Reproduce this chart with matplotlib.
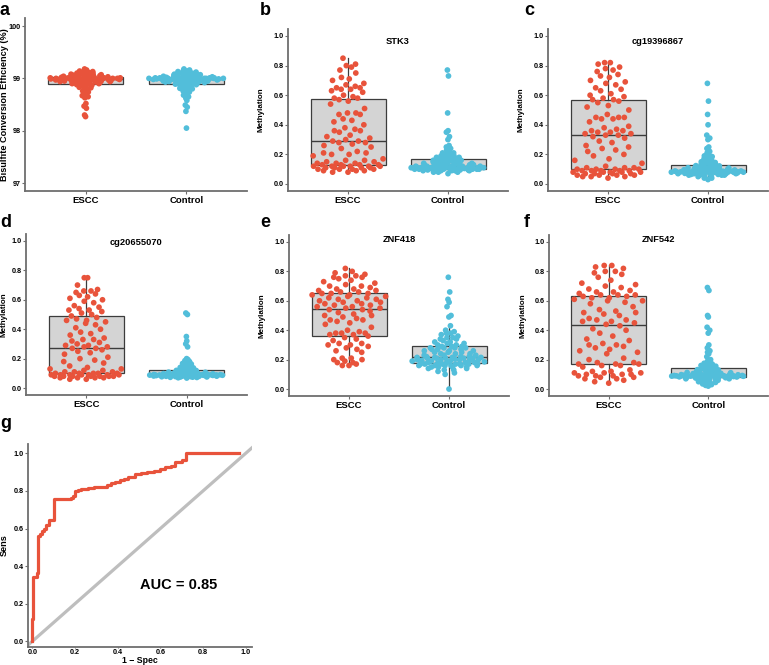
import matplotlib.pyplot as plt
import numpy as np

plt.rcParams['font.family'] = ['Liberation Sans', 'DejaVu Sans']
plt.rcParams['font.weight'] = 'bold'

RED = '#E8533B'
BLUE = '#52BEDA'
groups = ['ESCC', 'Control']

# a: bisulfite conversion efficiency (%)
bis_escc = [98.27, 98.30, 98.43, 98.47, 98.52, 98.63, 98.65, 98.67, 98.70, 98.72, 98.74,
            98.76, 98.78, 98.80, 98.82, 98.83, 98.85, 98.86, 98.87, 98.88, 98.89, 98.89,
            98.90, 98.90, 98.91, 98.91, 98.92, 98.92, 98.93, 98.93, 98.94, 98.94, 98.94,
            98.95, 98.95, 98.95, 98.96, 98.96, 98.96, 98.97, 98.97, 98.97, 98.97, 98.98, 98.98,
            98.98, 98.98, 98.99, 98.99, 98.99, 98.99, 98.99, 98.99, 99.00, 99.00, 99.00, 99.00,
            99.00, 99.00, 99.00, 99.00, 99.01, 99.01, 99.01, 99.01, 99.01, 99.01,
            99.02, 99.02, 99.03, 99.03, 99.04, 99.04, 99.05, 99.05, 99.06, 99.06, 99.07, 99.07,
            99.08, 99.08, 99.09, 99.10, 99.10, 99.11, 99.12, 99.13, 99.14, 99.16, 99.18]
bis_ctrl = [98.05, 98.37, 98.45, 98.49, 98.58, 98.62, 98.65, 98.68, 98.70, 98.72, 98.74,
            98.76, 98.77, 98.78, 98.80, 98.81, 98.82, 98.83, 98.84, 98.85, 98.86, 98.87,
            98.88, 98.89, 98.89,
            98.90, 98.90, 98.91, 98.91, 98.92, 98.92, 98.93, 98.93, 98.93, 98.94, 98.94, 98.94,
            98.95, 98.95, 98.95, 98.96, 98.96, 98.96, 98.97, 98.97, 98.97, 98.97, 98.98, 98.98,
            98.98,
            98.99, 98.99, 98.99, 98.99, 98.99, 98.99, 98.99, 99.00, 99.00, 99.00, 99.00, 99.00,
            99.00, 99.00, 99.00, 99.00, 99.00, 99.01, 99.01, 99.01, 99.01, 99.01, 99.01, 99.01,
            99.01,
            99.02, 99.02, 99.03, 99.03, 99.04, 99.04, 99.05, 99.05, 99.06, 99.06, 99.07, 99.07,
            99.08, 99.08, 99.09, 99.09, 99.10, 99.10, 99.11, 99.12, 99.13, 99.14, 99.15, 99.16,
            99.18]

# b: STK3
stk3_escc = [0.08, 0.08, 0.09, 0.09, 0.09, 0.10, 0.10, 0.10, 0.10, 0.11, 0.11, 0.11, 0.11,
             0.12, 0.12, 0.12, 0.12, 0.12, 0.12, 0.13, 0.13, 0.13,
             0.13, 0.14, 0.14, 0.14, 0.15, 0.15, 0.16, 0.16, 0.17, 0.19, 0.20, 0.20, 0.21,
             0.21, 0.22, 0.24, 0.25, 0.26, 0.27, 0.28, 0.28, 0.29,
             0.29, 0.30, 0.31, 0.32, 0.33, 0.35, 0.36, 0.36, 0.37, 0.38, 0.40, 0.42, 0.43,
             0.44, 0.47, 0.47, 0.48, 0.48, 0.51, 0.54, 0.56, 0.57,
             0.58, 0.58, 0.59, 0.60, 0.62, 0.63, 0.64, 0.64, 0.65, 0.65, 0.66, 0.67, 0.68,
             0.70, 0.71, 0.72, 0.75, 0.77, 0.79, 0.80, 0.81, 0.85]
stk3_ctrl = [0.07, 0.08, 0.08, 0.08, 0.09, 0.09, 0.09, 0.09, 0.09, 0.09, 0.095, 0.095, 0.095,
             0.10, 0.10, 0.10, 0.10, 0.10, 0.10, 0.10, 0.10, 0.10, 0.10, 0.10, 0.10,
             0.10, 0.10, 0.105, 0.105, 0.11, 0.11, 0.11, 0.11, 0.11, 0.11, 0.11, 0.11, 0.11,
             0.11, 0.115, 0.115, 0.12, 0.12, 0.12, 0.12, 0.12, 0.12, 0.12, 0.12, 0.12,
             0.12, 0.12, 0.12, 0.13, 0.13, 0.13, 0.13, 0.13, 0.13, 0.14, 0.14, 0.14, 0.14,
             0.14, 0.15, 0.15, 0.15, 0.15, 0.15, 0.16, 0.16, 0.16, 0.16, 0.16, 0.17,
             0.17, 0.17, 0.17, 0.18, 0.18, 0.18, 0.19, 0.19, 0.19, 0.20, 0.20, 0.21, 0.21,
             0.22, 0.23, 0.24, 0.25, 0.26, 0.30, 0.32, 0.35, 0.36, 0.48, 0.73, 0.77]

# c: cg19396867
cg193_escc = [0.04, 0.05, 0.05, 0.05, 0.06, 0.06, 0.06, 0.06, 0.07, 0.07, 0.07, 0.07, 0.08,
              0.08, 0.08, 0.08, 0.08, 0.09, 0.09, 0.09, 0.09, 0.09,
              0.10, 0.10, 0.10, 0.10, 0.11, 0.11, 0.11, 0.12, 0.14, 0.16, 0.17, 0.19, 0.20,
              0.22, 0.23, 0.24, 0.25, 0.26, 0.28, 0.29, 0.31, 0.32, 0.33,
              0.33, 0.34, 0.34, 0.35, 0.35, 0.36, 0.36, 0.37, 0.38, 0.39, 0.42, 0.44, 0.44,
              0.45, 0.45, 0.45, 0.47, 0.50, 0.52, 0.53, 0.55, 0.56, 0.57,
              0.57, 0.58, 0.59, 0.60, 0.61, 0.63, 0.64, 0.65, 0.67, 0.68, 0.69, 0.70, 0.72,
              0.73, 0.74, 0.76, 0.77, 0.78, 0.79, 0.81, 0.82, 0.82]
cg193_ctrl = [0.03, 0.04, 0.04, 0.05, 0.05, 0.05, 0.06, 0.06, 0.06, 0.06, 0.06, 0.065, 0.065,
              0.07, 0.07, 0.07, 0.07, 0.07, 0.07, 0.072, 0.074, 0.075, 0.076, 0.077, 0.078,
              0.078, 0.079, 0.079, 0.08, 0.08, 0.08, 0.08, 0.08, 0.081, 0.081, 0.082, 0.082,
              0.083, 0.083, 0.084, 0.084, 0.085, 0.085, 0.086, 0.086, 0.087, 0.088, 0.088,
              0.089, 0.09,
              0.09, 0.09, 0.092, 0.094, 0.095, 0.096, 0.098, 0.10, 0.10, 0.102, 0.104, 0.106,
              0.108, 0.11, 0.11, 0.112, 0.114, 0.116, 0.118, 0.12, 0.122, 0.124, 0.126, 0.128,
              0.13,
              0.133, 0.136, 0.14, 0.145, 0.15, 0.155, 0.16, 0.165, 0.17, 0.175, 0.18, 0.185,
              0.19, 0.20, 0.21, 0.22, 0.24, 0.25, 0.30, 0.31, 0.33, 0.40, 0.47, 0.56, 0.68]

# d: cg20655070
cg206_escc = [0.06, 0.06, 0.07, 0.07, 0.07, 0.07, 0.08, 0.08, 0.08, 0.08, 0.08, 0.08, 0.08,
              0.09, 0.09, 0.09, 0.09, 0.09, 0.09, 0.09, 0.10, 0.10,
              0.10, 0.10, 0.10, 0.11, 0.11, 0.11, 0.12, 0.12, 0.13, 0.13, 0.14, 0.15, 0.17,
              0.18, 0.19, 0.20, 0.21, 0.23, 0.24, 0.25, 0.26, 0.27, 0.27,
              0.28, 0.28, 0.29, 0.29, 0.30, 0.31, 0.32, 0.33, 0.33, 0.34, 0.36, 0.37, 0.38,
              0.40, 0.41, 0.43, 0.44, 0.45, 0.46, 0.46, 0.47, 0.48, 0.49,
              0.50, 0.51, 0.52, 0.53, 0.53, 0.54, 0.55, 0.56, 0.58, 0.59, 0.60, 0.61, 0.62,
              0.63, 0.64, 0.65, 0.66, 0.66, 0.67, 0.70, 0.75, 0.75]
cg206_ctrl = [0.068, 0.070, 0.072, 0.073, 0.074, 0.075, 0.076, 0.077, 0.078, 0.078, 0.079,
              0.080, 0.080, 0.081, 0.081, 0.082, 0.082, 0.083, 0.083, 0.084, 0.084, 0.084,
              0.085, 0.085, 0.085, 0.086, 0.086, 0.086, 0.087, 0.087, 0.087, 0.088, 0.088,
              0.088, 0.088, 0.089, 0.089, 0.089, 0.089, 0.090, 0.090, 0.090, 0.090, 0.090,
              0.091, 0.091, 0.091, 0.092, 0.092, 0.092,
              0.093, 0.094, 0.095, 0.096, 0.097, 0.098, 0.099, 0.100, 0.101, 0.103, 0.104,
              0.105, 0.107, 0.108, 0.110, 0.112, 0.113, 0.115, 0.116, 0.118, 0.119, 0.120,
              0.122, 0.123, 0.125,
              0.128, 0.131, 0.134, 0.137, 0.140, 0.143, 0.146, 0.150, 0.153, 0.156, 0.160,
              0.163, 0.167, 0.170, 0.175, 0.180, 0.186, 0.193, 0.200, 0.28, 0.30, 0.32, 0.35,
              0.50, 0.51]

# e: ZNF418
znf418_escc = [0.16, 0.16, 0.17, 0.18, 0.18, 0.19, 0.20, 0.20, 0.21, 0.21, 0.25, 0.26, 0.27,
               0.28, 0.29, 0.30, 0.30, 0.31, 0.31, 0.33, 0.34, 0.35,
               0.36, 0.37, 0.37, 0.38, 0.38, 0.38, 0.39, 0.40, 0.42, 0.44, 0.45, 0.46, 0.47,
               0.47, 0.48, 0.49, 0.50, 0.50, 0.51, 0.52, 0.53, 0.54, 0.54,
               0.55, 0.55, 0.56, 0.56, 0.57, 0.57, 0.58, 0.58, 0.59, 0.59, 0.60, 0.60, 0.61,
               0.61, 0.62, 0.62, 0.63, 0.63, 0.64, 0.64, 0.65, 0.65, 0.65,
               0.66, 0.66, 0.67, 0.67, 0.68, 0.68, 0.69, 0.70, 0.70, 0.71, 0.72, 0.73, 0.74,
               0.75, 0.76, 0.76, 0.77, 0.77, 0.78, 0.79, 0.80, 0.82]
znf418_ctrl = [0.00, 0.10, 0.11, 0.12, 0.13, 0.13, 0.14, 0.14, 0.15, 0.15, 0.15, 0.15, 0.16,
               0.16, 0.16, 0.16, 0.16, 0.16, 0.17, 0.17, 0.17, 0.17, 0.17, 0.17, 0.17,
               0.175, 0.18, 0.18, 0.18, 0.18, 0.185, 0.19, 0.19, 0.19, 0.19, 0.195, 0.20, 0.20,
               0.20, 0.20, 0.205, 0.21, 0.21, 0.21, 0.21, 0.21, 0.215, 0.215, 0.215, 0.215,
               0.22, 0.22, 0.22, 0.23, 0.23, 0.23, 0.24, 0.24, 0.24, 0.25, 0.25, 0.25, 0.26,
               0.26, 0.26, 0.27, 0.27, 0.27, 0.28, 0.28, 0.28, 0.28, 0.29, 0.29, 0.29,
               0.30, 0.30, 0.31, 0.31, 0.32, 0.32, 0.33, 0.34, 0.34, 0.35, 0.35, 0.36, 0.37,
               0.38, 0.38, 0.39, 0.40, 0.43, 0.49, 0.50, 0.56, 0.59, 0.61, 0.66, 0.76]

# f: ZNF542
znf542_escc = [0.04, 0.05, 0.06, 0.07, 0.07, 0.08, 0.08, 0.09, 0.09, 0.09, 0.10, 0.10, 0.10,
               0.11, 0.11, 0.11, 0.12, 0.12, 0.13, 0.15, 0.16, 0.16,
               0.17, 0.17, 0.17, 0.18, 0.18, 0.20, 0.21, 0.24, 0.25, 0.26, 0.27, 0.28, 0.29,
               0.30, 0.30, 0.31, 0.33, 0.34, 0.36, 0.38, 0.40, 0.41, 0.43,
               0.44, 0.45, 0.46, 0.46, 0.47, 0.47, 0.48, 0.50, 0.51, 0.52, 0.52, 0.53, 0.54,
               0.56, 0.58, 0.59, 0.60, 0.60, 0.61, 0.62, 0.62, 0.63, 0.63,
               0.64, 0.64, 0.64, 0.65, 0.66, 0.66, 0.67, 0.68, 0.69, 0.70, 0.71, 0.72, 0.74,
               0.76, 0.78, 0.79, 0.80, 0.80, 0.82, 0.83, 0.84, 0.84]
znf542_ctrl = [0.020, 0.025, 0.030, 0.035, 0.040, 0.040, 0.045, 0.050, 0.050, 0.055, 0.060,
               0.060, 0.065, 0.065, 0.070, 0.070, 0.072, 0.075, 0.077, 0.078, 0.080, 0.081,
               0.082, 0.083, 0.084, 0.085, 0.085, 0.086, 0.086, 0.087, 0.087, 0.088, 0.088,
               0.088, 0.089, 0.089, 0.089, 0.090, 0.090, 0.090, 0.090, 0.090, 0.091, 0.091,
               0.091, 0.091, 0.092, 0.092, 0.092, 0.092,
               0.093, 0.094, 0.095, 0.096, 0.097, 0.098, 0.100, 0.101, 0.103, 0.105, 0.107,
               0.109, 0.111, 0.113, 0.115, 0.118, 0.120, 0.122, 0.125, 0.127, 0.130, 0.132,
               0.135, 0.137, 0.140,
               0.143, 0.146, 0.150, 0.155, 0.160, 0.165, 0.170, 0.170, 0.175, 0.18, 0.19,
               0.20, 0.22, 0.24, 0.25, 0.26, 0.28, 0.30, 0.38, 0.40, 0.42, 0.49, 0.50, 0.67,
               0.69]

# g: ROC curve (corner points of the step curve)
roc_fpr = [0.000, 0.000, 0.005, 0.020, 0.025, 0.035, 0.045, 0.055, 0.065, 0.080, 0.100,
           0.180, 0.190, 0.200, 0.215, 0.230, 0.260, 0.290, 0.330, 0.350, 0.370, 0.390,
           0.410, 0.430, 0.450, 0.480, 0.510, 0.540, 0.570, 0.600, 0.620, 0.650, 0.670,
           0.700, 0.720, 0.970]
roc_tpr = [0.000, 0.120, 0.345, 0.365, 0.560, 0.570, 0.585, 0.600, 0.620, 0.645, 0.755,
           0.765, 0.775, 0.800, 0.805, 0.810, 0.815, 0.820, 0.820, 0.830, 0.840, 0.850,
           0.860, 0.865, 0.875, 0.890, 0.895, 0.900, 0.905, 0.915, 0.925, 0.935, 0.955,
           0.965, 1.000, 1.000]
auc_text = 'AUC = 0.85'

W, H = 769, 665
fig = plt.figure(figsize=(W / 100, H / 100), dpi=100)
fig.patch.set_facecolor('white')
AXC = '#6e6e6e'


def add_ax(left, top, right, bottom):
    return fig.add_axes([left / W, 1 - bottom / H, (right - left) / W, (bottom - top) / H])


def style(ax):
    for s in ['top', 'right']:
        ax.spines[s].set_visible(False)
    for s in ['left', 'bottom']:
        ax.spines[s].set_color(AXC)
        ax.spines[s].set_linewidth(1.3)
    ax.tick_params(axis='both', length=2, width=0.8, color=AXC, labelsize=5.2, pad=1.2)
    for lab in ax.get_xticklabels() + ax.get_yticklabels():
        lab.set_fontweight('bold')


def van_der_corput(n):
    out = []
    for i in range(1, n + 1):
        v, denom, k = 0.0, 1.0, i
        while k:
            denom *= 2
            k, r = divmod(k, 2)
            v += r / denom
        out.append(v)
    return np.array(out)


def quasirandom_x(vals, center, width=0.38):
    # density-scaled quasirandom offsets (like ggbeeswarm's geom_quasirandom)
    y = np.asarray(vals, float)
    n = len(y)
    sd = y.std(ddof=1)
    iqr = np.subtract(*np.percentile(y, [75, 25]))
    lo = min(sd, iqr / 1.34) if iqr > 0 else sd
    bw = 0.9 * lo * n ** -0.2
    grid = np.linspace(y.min() - 3 * bw, y.max() + 3 * bw, 512)
    dens_grid = np.exp(-0.5 * ((grid[:, None] - y[None, :]) / bw) ** 2).sum(axis=1)
    dens = np.interp(y, grid, dens_grid) / dens_grid.max()
    ranks = np.empty(n, int)
    ranks[np.argsort(y, kind='stable')] = np.arange(n)
    vdc = van_der_corput(n)[ranks]
    return center + (vdc - 0.5) * 2 * dens * width


def panel(box, escc, ctrl, ylim, yticks, yticklabels, title=None, title_y=None,
          ylabel='Methylation', ylabel_size=5.8, label_x=-0.105):
    ax = add_ax(*box)
    ax.set_xlim(-0.6, 1.6)
    ax.set_ylim(*ylim)
    bp = ax.boxplot([escc, ctrl], positions=[0, 1], widths=0.75, patch_artist=True,
                    showfliers=False, showcaps=False, whis=1.5, zorder=1)
    for b in bp['boxes']:
        b.set(facecolor='#D4D4D4', edgecolor='#3c3c3c', linewidth=0.9)
    for w in bp['whiskers']:
        w.set(color='#3c3c3c', linewidth=0.9)
    for md in bp['medians']:
        md.set(color='#3c3c3c', linewidth=1.0)
    for k, (vals, col) in enumerate(((escc, RED), (ctrl, BLUE))):
        ax.scatter(quasirandom_x(vals, k), vals, s=17, color=col, edgecolors='none',
                   zorder=3)
    ax.set_xticks([0, 1])
    ax.set_xticklabels(groups)
    ax.set_yticks(yticks)
    ax.set_yticklabels(yticklabels)
    style(ax)
    ax.tick_params(axis='x', labelsize=6.8, pad=1.5)
    ax.set_ylabel(ylabel, fontsize=ylabel_size, fontweight='bold')
    ax.yaxis.set_label_coords(label_x, 0.5)
    if title:
        ax.text(0.5, title_y, title, ha='center', va='center', fontsize=6.7,
                fontweight='bold')
    return ax


meth_ticks = [0.0, 0.2, 0.4, 0.6, 0.8, 1.0]
meth_labels = ['0.0', '0.2', '0.4', '0.6', '0.8', '1.0']
mlim = (-0.05, 1.05)

panel((25, 18.2, 247, 190.9), bis_escc, bis_ctrl, (96.85, 100.15), [97, 98, 99, 100],
      ['97', '98', '99', '100'], ylabel='Bisulfite Conversion Efficiency (%)',
      ylabel_size=6.6, label_x=-0.07)
panel((288, 28.6, 508, 191.4), stk3_escc, stk3_ctrl, mlim, meth_ticks, meth_labels,
      'STK3', 0.96)
panel((548, 28.6, 768, 191.4), cg193_escc, cg193_ctrl, mlim, meth_ticks, meth_labels,
      'cg19396867', 0.96)
panel((26, 233.6, 247, 395.4), cg206_escc, cg206_ctrl, mlim, meth_ticks, meth_labels,
      'cg20655070', 0.99, label_x=-0.085)
panel((289, 234.6, 509, 396.4), znf418_escc, znf418_ctrl, mlim, meth_ticks, meth_labels,
      'ZNF418', 1.02)
panel((549, 234.6, 768, 396.4), znf542_escc, znf542_ctrl, mlim, meth_ticks, meth_labels,
      'ZNF542', 1.02)

# ROC panel
axg = add_ax(28, 444, 252, 647)
axg.set_xlim(-0.02, 1.03)
axg.set_ylim(-0.03, 1.05)
axg.axline((0, 0), (1, 1), color='#BEBEBE', linewidth=2.3, zorder=1)
axg.plot(roc_fpr, roc_tpr, drawstyle='steps-post', color=RED, linewidth=2.3, zorder=2)
axg.set_xticks(meth_ticks)
axg.set_xticklabels(meth_labels)
axg.set_yticks(meth_ticks)
axg.set_yticklabels(meth_labels)
style(axg)
axg.tick_params(axis='x', length=1, pad=0.3)
axg.set_xlabel('1 \u2212 Spec', fontsize=6.3, fontweight='bold')
axg.xaxis.set_label_coords(0.5, -0.042)
axg.set_ylabel('Sens', fontsize=6.6, fontweight='bold')
axg.yaxis.set_label_coords(-0.085, 0.5)
axg.text(0.685, 0.30, auc_text, ha='center', va='center', fontsize=10.5, fontweight='bold')

for letter, x, y in [('a', 0, 15), ('b', 260, 15), ('c', 524, 15), ('d', 0, 227),
                     ('e', 260, 227), ('f', 524, 227), ('g', 0, 428)]:
    fig.text(x / W, 1 - y / H, letter, fontsize=13, fontweight='bold', ha='left',
             va='baseline')

fig.savefig('out.png', dpi=100, facecolor='white')
